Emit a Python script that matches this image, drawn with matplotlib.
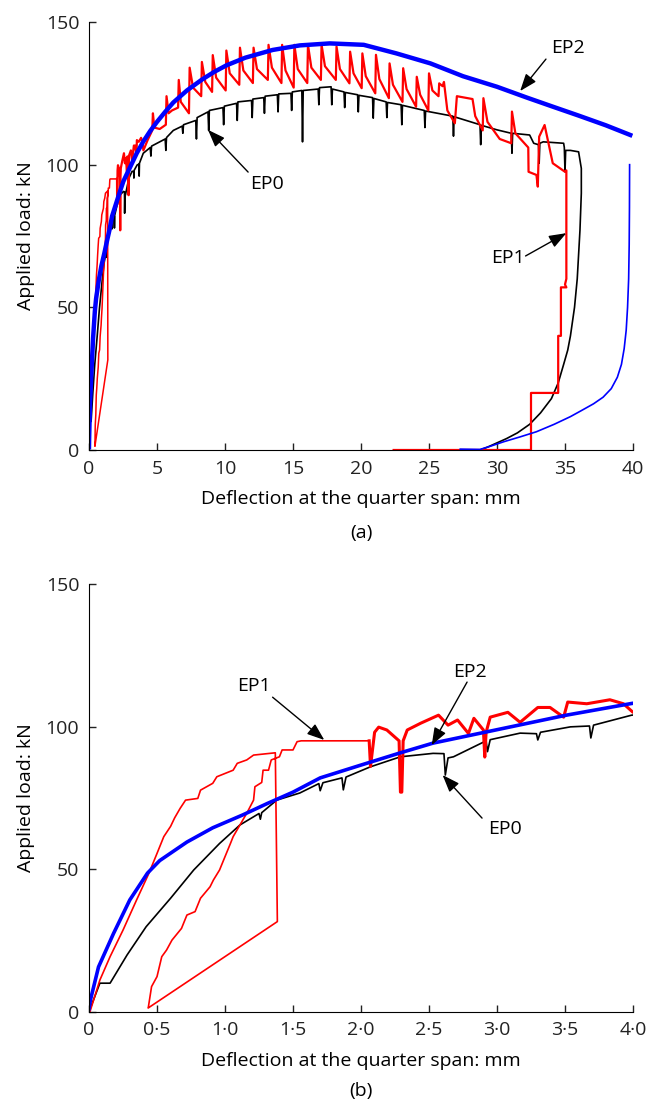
import matplotlib
matplotlib.use('Agg')
import matplotlib.pyplot as plt

plt.rcParams['font.family'] = ['Open Sans', 'DejaVu Sans']
plt.rcParams['font.size'] = 14

# EP2 (blue) - loading branch and unloading branch
ep2_load_x = [0, 0.01, 0.07, 0.18, 0.30, 0.43, 0.52, 0.72, 0.91, 1.13, 1.31, 1.5, 1.7, 2.0, 2.29,
              2.53, 2.93, 3.51, 3.99, 4.5, 5.0, 5.6, 6.2, 7.2, 8.3, 9.2, 10.1, 11.5, 13.5, 15.5,
              17.7, 20.2, 22.6, 25.1, 27.5, 30.0, 32.2, 34.0, 36.0, 38.0, 39.8]
ep2_load_y = [1, 4, 15.7, 27.4, 39.2, 48.6, 53, 59.5, 64.5, 69, 73, 77, 82, 86.5, 90.8,
              94.2, 98.2, 104, 108.1, 111.8, 115, 118.5, 121.8, 126, 129.8, 132.5, 134.8, 137.5, 140.2, 141.8,
              142.5, 142, 139, 135.5, 131, 127.3, 123.5, 120.5, 117.2, 113.8, 110.4]
ep2_unload_x = [39.75, 39.74, 39.72, 39.68, 39.6, 39.5, 39.35, 39.15, 38.85, 38.4, 37.8, 37.1,
                36.2, 35.4, 34.2, 32.9, 31.7, 30.5, 29.5, 28.75, 27.3]
ep2_unload_y = [100, 85, 72, 60, 50, 42, 35.5, 30, 25.5, 21.5, 18.5, 16.2,
                13.8, 11.7, 9, 6.4, 4.6, 2.9, 1.3, 0.2, 0.3]

# EP0 (black)
ep0_x = [0, 0.08, 0.155, 0.28, 0.42, 0.60, 0.77, 0.96, 1.11, 1.25, 1.26, 1.27, 1.38, 1.55, 1.69,
         1.70, 1.72, 1.86, 1.87, 1.89, 2.07, 2.29, 2.53, 2.61, 2.62, 2.64, 2.68, 2.92, 2.93, 2.95,
         3.17, 3.29, 3.30, 3.32, 3.54, 3.68, 3.69, 3.71, 3.99,
         4.5, 4.55, 4.6, 5.6, 5.65, 5.7, 6.2, 6.85, 6.9, 6.95, 7.85, 7.9, 7.95, 8.75, 8.8, 8.85,
         9.85, 9.9, 9.95, 10.85, 10.9, 10.95, 11.95, 12.0, 12.05, 12.85, 12.9, 12.95, 13.85, 13.9,
         13.95, 14.85, 14.9, 14.95, 15.65, 15.7, 15.75, 16.85, 16.9, 16.95, 17.8, 17.85, 17.9,
         18.75, 18.8, 18.85, 19.75, 19.8, 19.85, 20.85, 20.9, 20.95, 21.85, 21.9, 21.95, 22.95,
         23.0, 23.05, 24.65, 24.7, 24.75, 26.75, 26.8, 26.85, 28.75, 28.8, 28.85, 30.0, 31.05,
         31.1, 31.15, 32.4, 32.7, 33.05, 33.1, 33.15, 33.4, 34.9, 34.95, 35.0, 35.05, 35.4, 36.0,
         36.2, 36.2, 36.1, 35.9, 35.7, 35.4, 35.2, 34.9, 34.5, 34.0, 33.2, 32.4, 31.5, 30.7, 30.0,
         29.3, 28.75]
ep0_y = [0, 10, 10, 19.9, 29.8, 39.8, 49.7, 59, 65.5, 69.5, 67.5, 69.8, 74.2, 76.7, 80,
         77.5, 80.3, 82, 77.8, 82.3, 85.9, 89.4, 90.6, 90.5, 83, 89, 89.4, 95, 91.2, 95.4,
         97.7, 97.5, 95.3, 98, 99.9, 100.2, 96, 100.5, 104,
         106, 103, 106.5, 109, 105, 109.5, 112, 113.5, 111, 114, 115.5, 109, 116.5, 118.5, 112, 119,
         120, 114, 120.5, 121.5, 115.5, 122, 122.5, 116.5, 123, 123.5, 118, 124, 124.5, 118.5,
         124.8, 125, 119, 125.5, 126, 108, 126, 126.5, 121, 127, 127.3, 121, 126.5,
         125.5, 120, 125.3, 124.5, 118.5, 124.3, 123.5, 116.3, 123.2, 122, 116.5, 121.8, 121,
         114, 120.8, 119, 113, 118.8, 117, 110, 116.8, 114, 107, 113.8, 112.2, 111,
         104, 111, 110.4, 107.5, 107, 100.5, 107.5, 108, 107.5, 106, 97.5, 105, 105, 104.5,
         98.7, 90, 77, 60, 50, 40, 35, 30, 23.5, 18, 13, 9, 6, 4, 2.5,
         1, 0]

# EP1 (red) - early stepped loading, reloading, then cyclic part and unloading
ep1_early_x = [0, 0.007, 0.08, 0.155, 0.25, 0.35, 0.44, 0.50, 0.55, 0.60, 0.63, 0.67, 0.71, 0.80,
               0.82, 0.91, 0.94, 1.06, 1.09, 1.16, 1.21, 1.37, 1.385, 0.435, 0.437, 0.46, 0.50,
               0.535, 0.57, 0.61, 0.68, 0.72, 0.78, 0.82, 0.89, 0.915, 0.96, 0.99, 1.04, 1.06,
               1.11, 1.16, 1.21, 1.22, 1.27, 1.28, 1.32, 1.34, 1.40, 1.42, 1.50, 1.53, 1.56, 2.06]
ep1_early_y = [0, 0, 11.1, 19.3, 28.6, 39.2, 48.5, 55.5, 61.4, 65, 68, 71.3, 74.2, 74.8,
               77.7, 80.1, 82.4, 84.7, 87.1, 88.3, 90, 90.8, 31.6, 1.3, 1.75, 8.8, 12.3,
               19.3, 21.6, 25.1, 29.2, 33.9, 35.1, 39.8, 43.8, 46.2, 49.7, 53.2, 59, 61.4,
               65.5, 69.6, 74.2, 78.9, 80.4, 84.7, 84.7, 88.3, 89.4, 91.8, 91.8, 94.7, 95, 95]
ep1_x = [2.06, 2.07, 2.10, 2.13, 2.19, 2.28, 2.29, 2.30, 2.31, 2.34, 2.44, 2.57, 2.64, 2.71, 2.79,
         2.83, 2.90, 2.91, 2.92, 2.95, 3.08, 3.17, 3.30, 3.39, 3.49, 3.52, 3.66, 3.83, 3.93, 4.0,
         4.3, 4.65, 4.7, 4.8, 5.2, 5.65, 5.7, 5.85, 6.1, 6.55, 6.6, 6.75, 7.35,
         7.4, 7.65, 8.25, 8.3, 8.55, 9.05, 9.1, 9.35, 10.05, 10.1, 10.35, 11.05, 11.1, 11.35, 12.05,
         12.1, 12.35, 13.15, 13.2, 13.45, 14.15, 14.2, 14.45, 15.05, 15.1, 15.35, 16.05, 16.1, 16.35,
         17.05, 17.1, 17.35, 18.15, 18.2, 18.45, 19.15, 19.2, 19.45, 20.05, 20.1, 20.35, 21.05,
         21.1, 21.35, 22.05, 22.1, 22.35, 23.05, 23.1, 23.35, 24.05, 24.1, 24.35, 24.95,
         25.0, 25.25, 25.7, 25.75, 26.0, 26.1, 26.35, 26.9, 27.05, 28.2, 28.4, 28.95, 29.0, 29.3,
         30.2, 31.05, 31.1, 31.35, 32.3, 32.32, 32.9, 33.0, 33.1, 33.5, 34.1, 35.0, 35.1, 35.1,
         35.0, 35.1, 34.7, 34.7, 34.5, 34.5, 32.5, 32.5, 22.4]
ep1_y = [95, 86, 98, 99.8, 98.8, 95, 77, 77, 95, 98.8, 101.2, 104, 100.5, 102.3, 97.6,
         102.9, 98.8, 89.3, 98, 103.3, 105, 101.5, 106.7, 106.7, 103.3, 108.6, 108, 109.4, 108, 105,
         108.5, 112, 118, 113, 112.5, 114, 124, 118, 119, 120, 129.7, 122, 118,
         134, 127, 124, 136, 129, 125.5, 138.4, 130.5, 126, 140, 132, 128, 141, 133, 128.6,
         141, 133.5, 129.7, 142, 134, 128.6, 142, 133, 127, 142, 133.5, 128.6, 142, 134,
         129.7, 142, 134.5, 129.7, 141.4, 133.5, 128.5, 139.6, 132, 126.8, 139, 131, 125,
         138.5, 130, 123.3, 135.5, 128, 122, 133.8, 126.5, 120.3, 130.8, 124.5, 119,
         132, 126, 124, 128.5, 127.5, 129, 119, 114.5, 124, 123, 117, 112, 123.3, 115,
         109, 107.5, 118.6, 111, 106, 97.5, 96.4, 92.3, 109.8, 113.9, 100.5, 97.5, 98, 60,
         58, 57, 57, 40, 40, 20, 20, 0, 0]

top_xticks = [0, 5, 10, 15, 20, 25, 30, 35, 40]
top_xlabels = ['0', '5', '10', '15', '20', '25', '30', '35', '40']
bot_xticks = [0, 0.5, 1.0, 1.5, 2.0, 2.5, 3.0, 3.5, 4.0]
bot_xlabels = ['0', '0·5', '1·0', '1·5', '2·0', '2·5', '3·0', '3·5', '4·0']
yticks = [0, 50, 100, 150]

W, H = 649, 1101
fig = plt.figure(figsize=(W / 100, H / 100), dpi=100)
ax1 = fig.add_axes([89 / W, 1 - 450 / H, 544 / W, 428 / H])
ax2 = fig.add_axes([89 / W, 1 - 1011.7 / H, 544 / W, 427.7 / H])

arrow = dict(arrowstyle='-|>,head_length=0.75,head_width=0.28', color='black',
             lw=1.0, shrinkA=0, shrinkB=0)

# (a) full test
ax1.plot(ep0_x, ep0_y, color='black', lw=1.2)
ax1.plot(ep1_early_x, ep1_early_y, color='red', lw=1.1)
ax1.plot(ep1_x, ep1_y, color='red', lw=1.6)
ax1.plot(ep2_load_x, ep2_load_y, color='blue', lw=3.2)
ax1.plot(ep2_unload_x, ep2_unload_y, color='blue', lw=1.2)
ax1.set_xlim(0, 40)
ax1.set_xticks(top_xticks)
ax1.set_xticklabels(top_xlabels)

ax1.annotate('', xy=(31.7, 125.8), xytext=(33.6, 137), arrowprops=arrow)
ax1.text(35.2, 141, 'EP2', ha='center', va='center')
ax1.annotate('', xy=(8.75, 112.2), xytext=(11.7, 97.4), arrowprops=arrow)
ax1.text(13.1, 93.2, 'EP0', ha='center', va='center')
ax1.annotate('', xy=(35.1, 76), xytext=(32.1, 68), arrowprops=arrow)
ax1.text(30.8, 67.3, 'EP1', ha='center', va='center')

# (b) close-up of the first 4 mm
ax2.plot(ep0_x, ep0_y, color='black', lw=1.2)
ax2.plot(ep1_early_x, ep1_early_y, color='red', lw=1.2)
ax2.plot(ep1_x, ep1_y, color='red', lw=2.2)
ax2.plot(ep2_load_x, ep2_load_y, color='blue', lw=2.6)
ax2.set_xlim(0, 4)
ax2.set_xticks(bot_xticks)
ax2.set_xticklabels(bot_xlabels)

ax2.annotate('', xy=(1.73, 95.3), xytext=(1.35, 110.3), arrowprops=arrow)
ax2.text(1.21, 114.2, 'EP1', ha='center', va='center')
ax2.annotate('', xy=(2.52, 93.5), xytext=(2.78, 115.6), arrowprops=arrow)
ax2.text(2.80, 119.3, 'EP2', ha='center', va='center')
ax2.annotate('', xy=(2.60, 83), xytext=(2.89, 67.9), arrowprops=arrow)
ax2.text(3.06, 64, 'EP0', ha='center', va='center')

for ax in (ax1, ax2):
    ax.set_ylim(0, 150)
    ax.set_yticks(yticks)
    ax.spines['top'].set_visible(False)
    ax.spines['right'].set_visible(False)
    ax.tick_params(direction='in', length=5, width=1, pad=7, labelsize=14, colors='#222222')
    ax.set_xlabel('Deflection at the quarter span: mm', fontsize=14, labelpad=9)
    ax.set_ylabel('Applied load: kN', fontsize=14, labelpad=8)

fig.text(361 / W, 1 - 533 / H, '(a)', ha='center', va='center', fontsize=14)
fig.text(361 / W, 1 - 1091 / H, '(b)', ha='center', va='center', fontsize=14)

fig.savefig('out.png', dpi=100)
